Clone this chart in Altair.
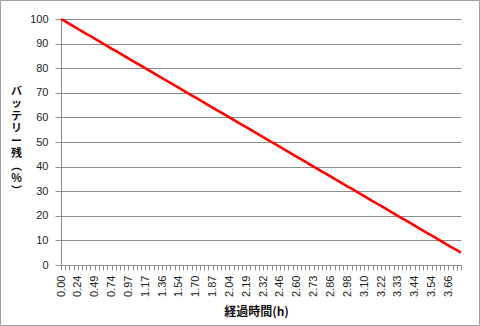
import altair as alt
import pandas as pd

# battery remaining (%) per category (one category per 1% drop)
battery = [100, 99, 98, 97, 96, 95, 94, 93, 92, 91,
           90, 89, 88, 87, 86, 85, 84, 83, 82, 81,
           80, 79, 78, 77, 76, 75, 74, 73, 72, 71,
           70, 69, 68, 67, 66, 65, 64, 63, 62, 61,
           60, 59, 58, 57, 56, 55, 54, 53, 52, 51,
           50, 49, 48, 47, 46, 45, 44, 43, 42, 41,
           40, 39, 38, 37, 36, 35, 34, 33, 32, 31,
           30, 29, 28, 27, 26, 25, 24, 23, 22, 21,
           20, 19, 18, 17, 16, 15, 14, 13, 12, 11,
           10, 9, 8, 7, 6, 5]

# elapsed time labels shown every 4th category
time_labels = ["0.00", "0.24", "0.49", "0.74", "0.97", "1.17", "1.36", "1.54",
               "1.70", "1.87", "2.04", "2.19", "2.32", "2.46", "2.60", "2.73",
               "2.86", "2.98", "3.10", "3.22", "3.33", "3.44", "3.54", "3.66"]

y_ticks = [0, 10, 20, 30, 40, 50, 60, 70, 80, 90, 100]

y_title = ["バ", "ッ", "テ", "リ", "ー", "残", "︵", "%", "︶"]
x_title = "経過時間(h)"

idx = list(range(len(battery)))
df = pd.DataFrame({"i": idx, "battery": battery})

label_js = "[" + ",".join("'" + t + "'" for t in time_labels) + "]"
label_expr = "datum.value % 4 == 0 ? " + label_js + "[datum.value / 4] : ''"

AX = "#8c8c8c"
W, H = 400, 246

line = alt.Chart(df).mark_line(color="#ff0000", strokeWidth=2.6).encode(
    x=alt.X("i:Q",
            scale=alt.Scale(domain=[0, len(battery) - 1], nice=False, zero=False),
            axis=alt.Axis(values=idx, labelExpr=label_expr, labelAngle=-90,
                          grid=False, tickSize=5, tickColor=AX, domainColor=AX,
                          labelPadding=5, labelFontSize=11, labelFont="Liberation Sans",
                          labelColor="#222222", labelOverlap=False, labelFlush=False,
                          title=x_title, titleFont="Noto Sans CJK JP", titleFontSize=12,
                          titleFontWeight="bold", titleColor="#111111",
                          titleX=195, titleY=46, titleBaseline="middle",
                          titleAlign="center")),
    y=alt.Y("battery:Q",
            scale=alt.Scale(domain=[0, 100], nice=False),
            axis=alt.Axis(values=y_ticks, grid=True, gridColor=AX, gridWidth=1,
                          tickSize=6, tickColor=AX, domainColor=AX,
                          labelPadding=7, labelFontSize=11, labelFont="Liberation Sans",
                          labelColor="#222222",
                          title=y_title, titleFont="Noto Sans CJK JP", titleFontSize=11,
                          titleFontWeight="bold", titleColor="#111111", titleAngle=0,
                          titleX=-45, titleY=66, titleBaseline="top", titleAlign="center",
                          titleLineHeight=12.5)),
)

border = alt.Chart(pd.DataFrame({"a": [0]})).mark_rect(
    fillOpacity=0, stroke="#a0a0a0", strokeWidth=1
).encode(
    x=alt.value(-60.5), x2=alt.value(W + 18.5),
    y=alt.value(-18.5), y2=alt.value(H + 60.5),
)

chart = alt.layer(line, border).properties(
    width=W, height=H,
    autosize=alt.AutoSizeParams(type="none"),
    padding={"left": 61, "top": 19, "right": 19, "bottom": 61},
    background="white",
).configure_view(stroke="transparent")

chart.save("out.html", embed_options={"renderer": "svg", "actions": False})
